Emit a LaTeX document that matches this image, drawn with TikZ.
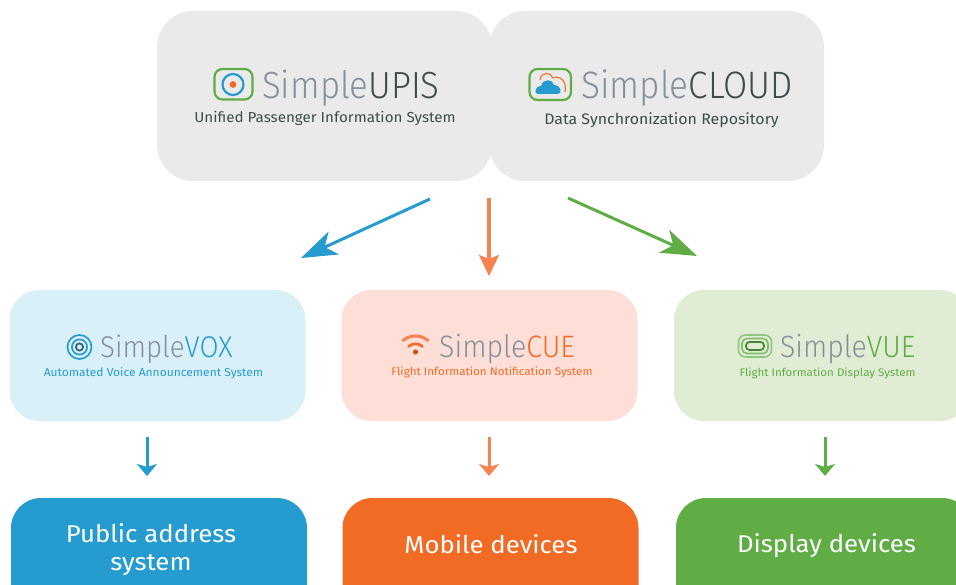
\documentclass[tikz,border=0pt]{standalone}
\usepackage{fontspec}
\setmainfont{Fira Sans Light}
\newfontfamily\brandf[FakeStretch=0.92]{Fira Sans Light}
\newfontfamily\subf[FakeStretch=1.05]{Fira Sans}
\newfontfamily\endf[FakeStretch=1.06]{Fira Sans}
\usetikzlibrary{arrows.meta}
\definecolor{cgrey}{HTML}{EAEAEA}
\definecolor{cdark}{HTML}{3F4B4C}
\definecolor{csimple}{HTML}{84909A}
\definecolor{bluelt}{HTML}{DAF0F8}
\definecolor{orangelt}{HTML}{FEDFD7}
\definecolor{greenlt}{HTML}{E0EDD4}
\definecolor{cblue}{HTML}{259BD0}
\definecolor{corange}{HTML}{F26B25}
\definecolor{corangea}{HTML}{F88250}
\definecolor{cgreen}{HTML}{60AD45}
\tikzset{
 x=1pt,y=-1pt,
 panel/.style={rounded corners=#1,inner sep=0pt,outer sep=0pt,draw=none},
 topbox/.style={panel=36pt,fill=cgrey,minimum width=335pt,minimum height=170pt},
 midbox/.style={panel=30pt,minimum width=296pt,minimum height=131pt},
 endbox/.style={panel=30pt,minimum width=296pt,minimum height=130pt,text=white},
 brand/.style={inner sep=0pt,anchor=base west,text=csimple,font=\brandf\fontsize{#1}{38}\selectfont},
 subt/.style={inner sep=0pt,anchor=base,font=\subf\fontsize{#1}{16}\selectfont},
 endt/.style={inner sep=0pt,align=center,text=white,font=\endf\fontsize{24.3}{28.5}\selectfont},
 bigarrow/.style={line width=3pt,-{Stealth[length=36pt,width=25pt,inset=10pt]}},
 downarrow/.style={line width=3.2pt,-{Stealth[length=21pt,width=20pt,inset=4pt]}},
 smallarrow/.style={line width=3pt,-{Stealth[length=12pt,width=20pt,inset=3pt]}},
}
\begin{document}
\begin{tikzpicture}
\useasboundingbox (0,0) rectangle (956,585);
\clip (0,0) rectangle (956,585);
\node[topbox] (upis) at (324.5,96) {};
\node[topbox] (cloud) at (656.5,96) {};
\node[midbox,fill=bluelt] (vox) at (157.5,355.5) {};
\node[midbox,fill=orangelt] (cue) at (489.5,355.5) {};
\node[midbox,fill=greenlt] (vue) at (822,355.5) {};
\node[endbox,fill=cblue] (pa) at (159,563) {};
\node[endbox,fill=corange] (mob) at (490.5,563) {};
\node[endbox,fill=cgreen] (disp) at (824,563) {};
% text
\node[brand=37.8] (t1) at (262,98.5) {Simple\textcolor{cdark}{UPIS}};
\node[subt=14.45,text=cdark] (s1) at (325,123) {Unified Passenger Information System};
\node[brand=38.2] (t2) at (581,98.5) {Simple\textcolor{cdark}{CLOUD}};
\node[subt=15.15,text=cdark] (s2) at (661.5,125) {Data Synchronization Repository};
\node[brand=30] (t3) at (100,358) {Simple\textcolor{cblue}{VOX}};
\node[subt=11.45,text=cblue] (s3) at (153.5,377) {Automated Voice Announcement System};
\node[brand=31] (t4) at (439,357.5) {Simple\textcolor{corange}{CUE}};
\node[subt=11.1,text=corange] (s4) at (492,375.5) {Flight Information Notification System};
\node[brand=30.8] (t5) at (780,357.5) {Simple\textcolor{cgreen}{VUE}};
\node[subt=11,text=cgreen] (s5) at (827.5,376) {Flight Information Display System};
\node[endt] (e1) at (151,549.5) {Public address\\system};
\node[endt] (e2) at (491,544) {Mobile devices};
\node[endt] (e3) at (826.5,546) {Display devices};
% arrows
\coordinate (a1) at (430,199); \coordinate (a2) at (301,258);
\coordinate (b1) at (489,198); \coordinate (b2) at (489,276);
\coordinate (c1) at (568,198); \coordinate (c2) at (697,256);
\coordinate (d1) at (147,437); \coordinate (d2) at (147,476);
\coordinate (f1) at (489,437); \coordinate (f2) at (489,476);
\coordinate (g1) at (825,437); \coordinate (g2) at (825,476);
\draw[bigarrow,cblue] (a1) -- (a2);
\draw[downarrow,corangea] (b1) -- (b2);
\draw[bigarrow,cgreen] (c1) -- (c2);
\draw[smallarrow,cblue] (d1) -- (d2);
\draw[smallarrow,corangea] (f1) -- (f2);
\draw[smallarrow,cgreen] (g1) -- (g2);
% UPIS logo
\draw[cgreen,line width=2.2pt,rounded corners=8pt] (214.5,69) rectangle (252.5,99.5);
\draw[cblue,line width=2.2pt] (233,84.5) circle (10.5);
\fill[corange] (233,84.5) circle (3.4);
% CLOUD logo
\draw[cgreen,line width=2.2pt,rounded corners=8pt] (529.5,69) rectangle (571,100);
\draw[corange,line width=1.1pt] (540,80) .. controls (541,71) and (551,72) .. (553,78) .. controls (560,75) and (567,81) .. (565,92);
\fill[cblue] (538,94) .. controls (533,94) and (536,85) .. (541,86) .. controls (543,78) and (553,79) .. (554,85) .. controls (560,84) and (564,94) .. (557,94) -- cycle;
% VOX logo
\draw[cblue,line width=1.7pt] (79.5,347) circle (12);
\draw[cblue,line width=1.7pt] (79.5,347) circle (7.6);
\draw[cdark!70!cblue,line width=1.8pt] (79.5,347) circle (3.6);
% CUE logo
\draw[corangea,line width=3pt,line cap=round] (403,340.5) .. controls (410,334.5) and (421,334.5) .. (428,340.5);
\draw[corange,line width=2.6pt,line cap=round] (408.5,346.5) .. controls (412,343) and (419,343) .. (422.5,346.5);
\fill[corange!80!black] (415.5,352) circle (2.6);
% VUE logo
\draw[cgreen!70!white,line width=1.6pt,rounded corners=7pt] (738.5,335) rectangle (771.5,357);
\draw[cgreen!80!white,line width=1.6pt,rounded corners=5pt] (742,338.5) rectangle (768,353.5);
\draw[cgreen!75!black,line width=1.7pt,rounded corners=3.5pt] (746,342) rectangle (764,350);
\end{tikzpicture}
\end{document}
